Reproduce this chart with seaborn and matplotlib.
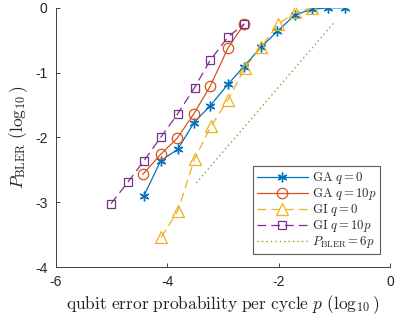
import numpy as np
import pandas as pd
import matplotlib
matplotlib.use("Agg")
import matplotlib.pyplot as plt
import seaborn as sns

# data (log10 values)
ga0_x = [-4.42, -4.12, -3.81, -3.52, -3.23, -2.91, -2.63, -2.32, -2.02, -1.71, -1.40, -1.11, -0.81]
ga0_y = [-2.90, -2.36, -2.18, -1.77, -1.51, -1.18, -0.91, -0.61, -0.36, -0.11, -0.02, 0.0, 0.0]

ga10_x = [-4.44, -4.12, -3.82, -3.52, -3.23, -2.91, -2.62]
ga10_y = [-2.57, -2.26, -2.01, -1.63, -1.21, -0.62, -0.25]

gi0_x = [-4.11, -3.81, -3.51, -3.21, -2.91, -2.61, -2.31, -2.01, -1.70, -1.40]
gi0_y = [-3.54, -3.13, -2.33, -1.82, -1.42, -0.93, -0.60, -0.25, -0.07, 0.0]

gi10_x = [-5.01, -4.71, -4.42, -4.12, -3.81, -3.51, -3.23, -2.91, -2.62]
gi10_y = [-3.02, -2.69, -2.36, -2.00, -1.63, -1.23, -0.81, -0.45, -0.25]

# P_BLER = 6p reference line
ref_x = [-3.48, -1.00]
ref_y = [np.log10(6) + v for v in ref_x]

x_ticks = [-6, -4, -2, 0]
y_ticks = [-4, -3, -2, -1, 0]

sns.set_style("ticks")
plt.rcParams["mathtext.fontset"] = "cm"
plt.rcParams["font.family"] = ["Liberation Sans", "DejaVu Sans"]

fig = plt.figure(figsize=(4.07, 3.15), dpi=100)
ax = fig.add_axes([0.1376, 0.152, 0.8204, 0.823])

blue, orange, yellow, purple, green = "#0072BD", "#D95319", "#EDB120", "#7E2F8E", "#77AC30"

sns.lineplot(x=ga0_x, y=ga0_y, ax=ax, color=blue, lw=0.9, marker=(6, 2, 0),
             markersize=7, markeredgewidth=1.0, markeredgecolor=blue,
             label=r"$\mathrm{GA}\ q=0$", sort=False)
sns.lineplot(x=ga10_x, y=ga10_y, ax=ax, color=orange, lw=0.9, marker="o",
             markersize=7.5, markerfacecolor="none", markeredgewidth=0.9,
             markeredgecolor=orange, label=r"$\mathrm{GA}\ q=10p$", sort=False)
sns.lineplot(x=gi0_x, y=gi0_y, ax=ax, color=yellow, lw=0.9, marker="^",
             markersize=8, markerfacecolor="none", markeredgewidth=0.9,
             markeredgecolor=yellow, linestyle=(0, (7, 4)),
             label=r"$\mathrm{GI}\ q=0$", sort=False)
sns.lineplot(x=gi10_x, y=gi10_y, ax=ax, color=purple, lw=0.9, marker="s",
             markersize=6, markerfacecolor="none", markeredgewidth=0.9,
             markeredgecolor=purple, linestyle=(0, (7, 4)),
             label=r"$\mathrm{GI}\ q=10p$", sort=False)
sns.lineplot(x=ref_x, y=ref_y, ax=ax, color=green, lw=1.0,
             linestyle=(0, (1, 2.2)), label=r"$P_{\mathrm{BLER}}=6p$", sort=False)

ax.set_xlim(-6, 0)
ax.set_ylim(-4, 0)
ax.set_xticks(x_ticks)
ax.set_yticks(y_ticks)
ax.set_xticklabels([str(t) for t in x_ticks])
ax.set_yticklabels([str(t) for t in y_ticks])
ax.tick_params(direction="in", length=3, width=0.6, colors="#262626",
               labelsize=10, pad=6)
for s in ["left", "bottom"]:
    ax.spines[s].set_color("#404040")
    ax.spines[s].set_linewidth(0.7)
sns.despine(ax=ax)

ax.set_xlabel(r"$\mathrm{qubit\ error\ probability\ per\ cycle}\ p\ (\log_{10})$",
              fontsize=12.5, color="#222222", labelpad=3)
ax.set_ylabel(r"$P_{\mathrm{BLER}}\ (\log_{10})$", fontsize=12.5,
              color="#222222", labelpad=4)

leg = ax.legend(loc="lower right", bbox_to_anchor=(0.97, 0.05), fontsize=9.2,
                frameon=True, fancybox=False, handlelength=4.0,
                borderpad=0.3, labelspacing=0.0, handletextpad=0.3,
                borderaxespad=0.0)
leg.get_frame().set_edgecolor("#333333")
leg.get_frame().set_linewidth(0.8)

fig.savefig("out.png", dpi=100)
